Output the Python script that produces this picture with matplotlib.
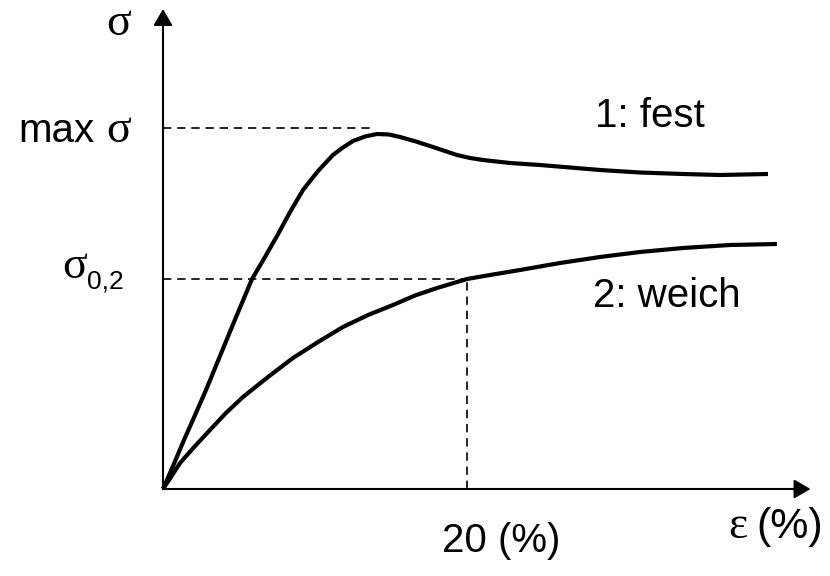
import matplotlib
matplotlib.use("Agg")
import matplotlib.pyplot as plt

# ---- data (strain in %, stress in arbitrary units) ----
eps_fest = [0.0, 0.66, 1.38, 2.11, 2.83, 3.75, 4.67, 5.86, 6.71, 7.50, 8.36, 9.21,
            10.20, 11.18, 11.84, 12.50, 13.29, 14.08, 14.87, 15.59, 16.64, 17.76,
            18.55, 19.34, 20.20, 21.05, 22.83, 24.80, 26.78, 28.75, 31.38, 34.21,
            36.64, 39.80]
sig_fest = [0.0, 0.23, 0.49, 0.74, 0.99, 1.33, 1.67, 2.10, 2.32, 2.53, 2.77, 2.99,
            3.18, 3.34, 3.415, 3.48, 3.525, 3.55, 3.545, 3.52, 3.475, 3.42,
            3.38, 3.34, 3.31, 3.29, 3.26, 3.24, 3.215, 3.19, 3.165, 3.15,
            3.14, 3.15]

eps_weich = [0.0, 0.53, 1.12, 2.11, 3.09, 4.14, 5.26, 6.91, 8.55, 10.20, 11.84,
             13.49, 15.13, 16.58, 18.03, 20.0, 21.51, 23.49, 26.12, 28.75, 31.38,
             34.21, 37.30, 40.39]
sig_weich = [0.0, 0.12, 0.26, 0.43, 0.59, 0.76, 0.92, 1.12, 1.31, 1.47, 1.62,
             1.74, 1.84, 1.935, 2.01, 2.10, 2.14, 2.19, 2.26, 2.32, 2.37,
             2.41, 2.44, 2.45]

max_sigma = 3.61
max_sigma_eps = 13.95
sigma_02 = 2.10
eps_20 = 20.0
x_axis_end = 42.6
y_axis_end = 4.80

W, H = 830, 576
fig = plt.figure(figsize=(W / 100, H / 100), dpi=100)
ax = fig.add_axes([0, 0, 1, 1])
# pixel mapping: x_px = 163 + 15.2*eps ; y_px = 489 - 100*sig
ax.set_xlim(-163 / 15.2, (W - 163) / 15.2)
ax.set_ylim(-(H - 489) / 100, 489 / 100)
ax.axis("off")

sans = "Liberation Sans"
serif = "Liberation Serif"
fs = 29

# axes with arrows
arrow_kw = dict(arrowstyle="-|>,head_length=0.5,head_width=0.29", color="black",
                lw=1.5, shrinkA=0, shrinkB=0, mutation_scale=20)
ax.annotate("", xy=(x_axis_end, 0), xytext=(0, 0), arrowprops=arrow_kw)
ax.annotate("", xy=(0, y_axis_end), xytext=(0, 0), arrowprops=arrow_kw)

# dashed guide lines
dash = (0, (5, 3.5))
ax.plot([0, max_sigma_eps], [max_sigma, max_sigma], color="black", lw=1.2, linestyle=dash)
ax.plot([0, eps_20], [sigma_02, sigma_02], color="black", lw=1.2, linestyle=dash)
ax.plot([eps_20, eps_20], [0, sigma_02], color="black", lw=1.2, linestyle=dash)

# curves
ax.plot(eps_fest, sig_fest, color="black", lw=3.0, solid_capstyle="butt", solid_joinstyle="round")
ax.plot(eps_weich, sig_weich, color="black", lw=3.0, solid_capstyle="butt", solid_joinstyle="round")


def ftext(x, y, s, family=sans, size=fs, **kw):
    fig.text(x / W, 1 - y / H, s, family=family, fontsize=size, va="baseline", ha="left", **kw)


ftext(106, 35, "σ", family=serif, size=33)
ftext(18, 142, "max", family=sans)
ftext(106, 142, "σ", family=serif, size=33)
ftext(62, 278, "σ", family=serif, size=33)
ftext(87, 288, "0,2", family=sans, size=19)
ftext(595, 127, "1: fest")
ftext(593, 307, "2: weich")
ftext(442, 552, "20 (%)")
ftext(728, 538, "ε", family=serif, size=33)
ftext(756, 538, "(%)", size=31)

fig.savefig("out.png", dpi=100, facecolor="white")
